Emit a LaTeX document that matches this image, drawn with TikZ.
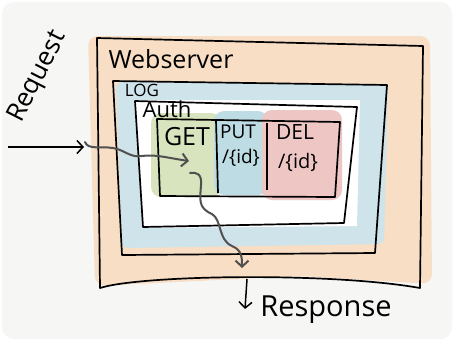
\documentclass[tikz,border=0pt]{standalone}
\usepackage{fontspec}
\setmainfont{Open Sans}
\usetikzlibrary{arrows.meta}
\definecolor{bg}{HTML}{F6F6F4}
\definecolor{orangefill}{HTML}{F8DEC4}
\definecolor{bluefill}{HTML}{CFE3EB}
\definecolor{greenfill}{HTML}{D8E4BE}
\definecolor{putfill}{HTML}{BEDCE3}
\definecolor{redfill}{HTML}{EEC7C5}
\definecolor{pathgrey}{HTML}{505050}
\begin{document}
\begin{tikzpicture}[x=1pt,y=-1pt,
  frame/.style={draw=black,line width=1.7pt,line join=round},
  lbl/.style={inner sep=0pt,text=black},
  blackarrow/.style={draw=black,line width=1.5pt,-{Straight Barb[length=6pt,width=13pt,line width=1.5pt]}},
  greyarrow/.style={draw=pathgrey,line width=2pt,line cap=round,-{Straight Barb[length=6pt,width=13pt,line width=2pt]}}]
\useasboundingbox (0,0) rectangle (454,341);
\fill[white] (0,0) rectangle (454,341);
\fill[bg, rounded corners=12pt] (2,2) rectangle (452,339);
% colour washes
\fill[orangefill, rounded corners=10pt] (88,36) -- (430,36) -- (432,284) -- (300,276) -- (95,286) -- cycle;
\fill[bluefill, rounded corners=6pt] (116,82) -- (388,84) -- (384,244) -- (122,248) -- cycle;
\fill[white] (134,100) -- (360,100) -- (357,226) -- (143,228) -- cycle;
\fill[greenfill, rounded corners=10pt] (151,113) rectangle (221,197);
\fill[putfill, rounded corners=10pt] (214,111) rectangle (268,195);
\fill[redfill, rounded corners=10pt] (262,110) rectangle (342,200);
% frames
\draw[frame] (97,38) -- (423,46) -- (420,288) .. controls (330,272) and (140,275) .. (100,288) -- cycle;
\draw[frame] (113,81) -- (387,85) -- (375,253) -- (122,255) -- cycle;
\draw[frame] (135,101) -- (357,107) -- (344,223) -- (143,227) -- cycle;
\draw[frame] (157,119) -- (340,122) -- (335,197) -- (160,196) -- cycle;
\draw[frame] (216,120) -- (218,193);
\draw[frame] (267,123) -- (267,190);
% labels
\node[lbl, font=\fontsize{25}{25}\selectfont] (web) at (171,59) {Webserver};
\node[lbl, font=\fontsize{17}{17}\selectfont] (log) at (142,90) {LOG};
\node[lbl, font=\fontsize{22}{22}\selectfont] (auth) at (167,109) {Auth};
\node[lbl, font=\fontsize{25}{25}\selectfont] (get) at (187,137) {GET};
\node[lbl, font=\fontsize{19}{19}\selectfont] (put) at (238,132) {PUT};
\node[lbl, font=\fontsize{19}{19}\selectfont] (putid) at (241,158) {/\{id\}};
\node[lbl, font=\fontsize{21}{21}\selectfont] (del) at (295,132) {DEL};
\node[lbl, font=\fontsize{20}{20}\selectfont] (delid) at (298,162) {/\{id\}};
\node[lbl, font=\fontsize{26}{26}\selectfont, rotate=63] (req) at (38,77) {Request};
\node[lbl, font=\fontsize{29}{29}\selectfont] (resp) at (326,310) {Response};
% connectors
\coordinate (reqA) at (8,147);
\coordinate (reqB) at (84,147);
\draw[blackarrow] (reqA) -- (reqB);
\coordinate (w1s) at (85,142);
\coordinate (w1e) at (189,161);
\draw[greyarrow] (w1s) .. controls (88,150) and (100,146) .. (113,148) .. controls (125,150) and (130,158) .. (142,156) .. controls (155,154) and (168,158) .. (w1e);
\coordinate (w2s) at (190,173);
\coordinate (w2e) at (242,268);
\draw[greyarrow] (w2s) .. controls (197,172) and (202,174) .. (201,185) .. controls (200,200) and (198,208) .. (212,214) .. controls (222,220) and (218,240) .. (232,246) .. controls (242,250) and (242,258) .. (w2e);
\coordinate (r1) at (247,279);
\coordinate (r2) at (245,309);
\draw[blackarrow] (r1) -- (r2);
\end{tikzpicture}
\end{document}
